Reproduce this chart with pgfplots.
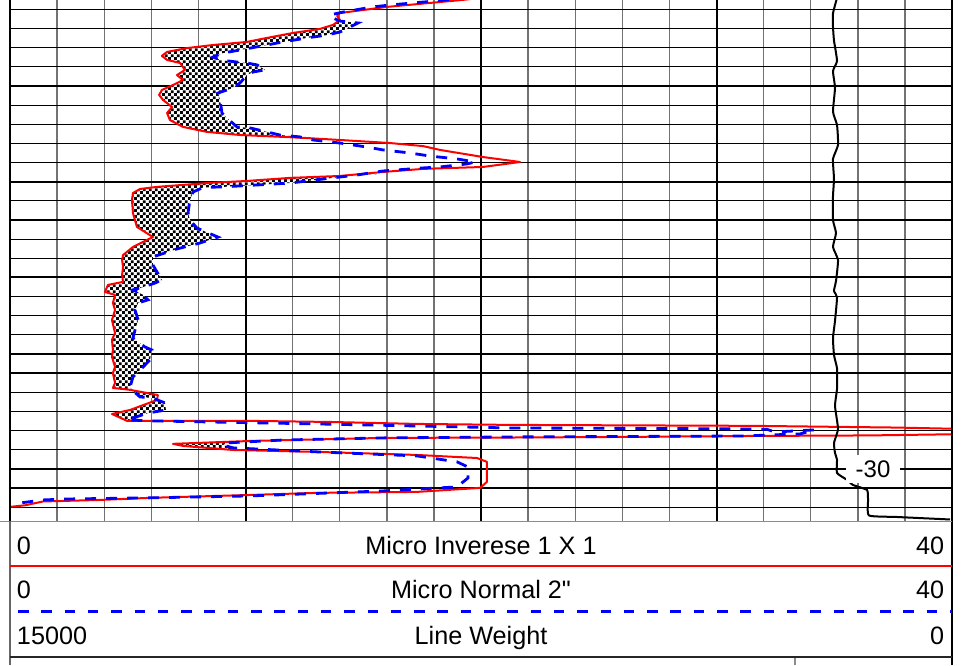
\documentclass[border=0pt]{standalone}
\usepackage{fontspec}
\setmainfont{Liberation Sans}
\newfontfamily\plainsans{Liberation Sans}
\usepackage{pgfplots}
\pgfplotsset{compat=1.18}
\usepackage{pgfplotstable}
\usetikzlibrary{patterns}

% opaque checker fill between the two micro curves
\pgfdeclarepatternformonly{checks}{\pgfpointorigin}{\pgfqpoint{2.9pt}{2.9pt}}{\pgfqpoint{2.9pt}{2.9pt}}{%
  \pgfpathrectangle{\pgfpointorigin}{\pgfqpoint{1.45pt}{1.45pt}}%
  \pgfpathrectangle{\pgfqpoint{1.45pt}{1.45pt}}{\pgfqpoint{1.45pt}{1.45pt}}%
  \pgfusepath{fill}}

\newcommand\hdr{\plainsans\fontsize{12.6}{15}\selectfont}

% Micro Inverse 1 X 1 (value, depth)
\pgfplotstableread{
x y
19.96 -54.60
19.19 -54.49
16.01 -54.13
14.01 -53.81
13.89 -53.66
14.01 -53.45
13.72 -53.19
13.16 -52.98
12.02 -52.77
10.91 -52.51
10.06 -52.30
8.62 -52.14
7.52 -51.98
6.67 -51.78
6.45 -51.57
6.67 -51.36
7.22 -51.20
7.43 -50.84
7.09 -50.57
7.35 -50.31
6.92 -50.05
6.45 -49.79
6.33 -49.53
6.50 -49.27
6.88 -48.90
6.67 -48.59
6.79 -48.22
7.35 -47.86
8.37 -47.60
9.77 -47.44
11.59 -47.34
12.61 -47.28
14.01 -47.18
16.14 -47.02
17.54 -46.86
18.26 -46.66
20.08 -46.29
21.66 -46.03
20.08 -45.77
17.54 -45.67
15.84 -45.51
14.01 -45.30
11.89 -45.20
10.06 -45.04
8.37 -44.93
6.24 -44.73
5.52 -44.62
5.22 -44.41
5.18 -44.05
5.22 -43.37
5.39 -42.64
6.07 -42.11
5.82 -41.96
5.22 -41.59
4.80 -41.17
4.76 -40.91
4.80 -40.55
4.76 -40.13
4.80 -39.77
4.16 -39.61
4.03 -39.24
4.46 -39.09
4.37 -38.67
4.46 -38.30
4.33 -37.78
4.46 -37.10
4.33 -36.74
4.37 -36.21
4.33 -35.85
4.46 -35.33
4.37 -35.01
4.46 -34.49
4.37 -34.23
5.10 -34.13
6.28 -33.86
6.24 -33.60
5.10 -33.08
4.33 -32.87
4.97 -32.51
10.19 -32.51
13.72 -32.45
17.28 -32.35
21.23 -32.30
31.55 -32.25
37.66 -32.16
40.00 -32.10
45.00 -32.04
45.00 -31.88
40.00 -31.81
36.52 -31.75
31.30 -31.72
25.90 -31.67
21.23 -31.64
15.84 -31.62
10.19 -31.46
6.92 -31.31
7.35 -31.20
9.47 -30.99
13.04 -30.89
17.28 -30.73
19.83 -30.57
20.25 -30.37
20.25 -29.32
19.96 -29.01
17.28 -28.80
13.04 -28.75
10.19 -28.64
5.94 -28.49
3.82 -28.38
1.40 -28.30
0.64 -28.10
0.00 -28.02
-0.42 -27.96
}\inverse

% Micro Normal 2"
\pgfplotstableread{
x y
19.53 -54.60
16.14 -54.23
15.41 -54.13
14.14 -53.86
13.59 -53.71
13.72 -53.55
14.01 -53.39
14.78 -53.29
14.44 -53.08
14.01 -52.82
13.46 -52.66
12.61 -52.51
11.59 -52.30
10.91 -52.14
9.77 -51.88
9.04 -51.72
8.62 -51.51
8.92 -51.36
9.64 -51.25
10.06 -51.20
10.49 -51.10
10.83 -50.84
10.32 -50.73
10.06 -50.57
9.77 -50.16
9.47 -49.90
8.83 -49.63
8.92 -49.27
9.00 -48.59
9.21 -48.33
9.64 -47.86
10.19 -47.81
10.91 -47.60
11.46 -47.44
12.31 -47.34
12.87 -47.18
14.01 -47.02
15.16 -46.81
15.84 -46.66
16.99 -46.50
17.83 -46.34
18.98 -46.19
19.75 -46.03
19.41 -45.93
18.26 -45.77
17.54 -45.72
15.84 -45.56
14.73 -45.35
13.29 -45.14
11.89 -44.93
10.49 -44.83
9.04 -44.73
8.20 -44.70
7.77 -44.46
7.64 -44.05
7.56 -43.37
7.64 -43.00
7.94 -42.58
8.83 -42.11
8.07 -41.80
7.09 -41.49
6.07 -41.07
6.07 -40.65
6.24 -40.29
6.45 -39.87
6.16 -39.71
5.65 -39.50
5.22 -39.35
5.65 -39.09
5.86 -38.83
5.44 -38.67
5.31 -38.30
5.44 -37.78
5.31 -37.26
5.22 -36.84
5.73 -36.37
6.03 -36.21
5.94 -35.69
5.61 -35.27
5.44 -35.07
5.22 -34.80
5.10 -34.28
5.18 -34.13
5.52 -33.76
6.03 -33.71
6.58 -33.45
6.62 -33.08
5.86 -32.92
4.97 -32.56
5.94 -32.51
13.04 -32.35
21.23 -32.14
29.85 -32.10
32.14 -32.07
32.48 -31.93
34.18 -32.04
33.55 -31.83
31.12 -31.72
21.23 -31.67
15.84 -31.62
11.59 -31.51
9.21 -31.36
9.04 -31.25
9.47 -31.10
13.04 -30.89
17.28 -30.68
18.98 -30.37
19.45 -30.10
19.45 -29.53
18.98 -29.06
15.84 -28.85
10.19 -28.59
5.94 -28.49
2.42 -28.43
1.40 -28.38
0.42 -28.22
}\normal

% regions where Micro Normal reads above Micro Inverse
\pgfplotstableread{
x y
14.01 -53.45
13.72 -53.19
13.16 -52.98
12.02 -52.77
10.91 -52.51
10.06 -52.30
8.62 -52.14
7.52 -51.98
6.67 -51.78
6.45 -51.57
6.67 -51.36
7.22 -51.20
7.43 -50.84
7.09 -50.57
7.35 -50.31
6.92 -50.05
6.45 -49.79
6.33 -49.53
6.50 -49.27
6.88 -48.90
6.67 -48.59
6.79 -48.22
7.35 -47.86
8.37 -47.60
9.77 -47.44
11.59 -47.34
12.50 -47.30
12.31 -47.34
11.46 -47.44
10.91 -47.60
10.19 -47.81
9.64 -47.86
9.21 -48.33
9.00 -48.59
8.92 -49.27
8.83 -49.63
9.47 -49.90
9.77 -50.16
10.06 -50.57
10.32 -50.73
10.83 -50.84
10.49 -51.10
10.06 -51.20
9.64 -51.25
8.92 -51.36
8.62 -51.51
9.04 -51.72
9.77 -51.88
10.91 -52.14
11.59 -52.30
12.61 -52.51
13.46 -52.66
14.01 -52.82
14.44 -53.08
14.78 -53.29
14.01 -53.39
}\sepA

\pgfplotstableread{
x y
15.71 -45.40
14.01 -45.30
11.89 -45.20
10.06 -45.04
8.37 -44.93
6.24 -44.73
5.52 -44.62
5.22 -44.41
5.18 -44.05
5.22 -43.37
5.39 -42.64
6.07 -42.11
5.82 -41.96
5.22 -41.59
4.80 -41.17
4.76 -40.91
4.80 -40.55
4.76 -40.13
4.80 -39.77
4.16 -39.61
4.03 -39.24
4.46 -39.09
4.37 -38.67
4.46 -38.30
4.33 -37.78
4.46 -37.10
4.33 -36.74
4.37 -36.21
4.33 -35.85
4.46 -35.33
4.37 -35.01
4.46 -34.49
4.37 -34.23
5.10 -34.13
6.28 -33.86
6.24 -33.60
5.10 -33.08
4.33 -32.87
4.97 -32.53
5.86 -32.92
6.62 -33.08
6.58 -33.45
6.03 -33.71
5.52 -33.76
5.18 -34.13
5.10 -34.28
5.22 -34.80
5.44 -35.07
5.61 -35.27
5.94 -35.69
6.03 -36.21
5.73 -36.37
5.22 -36.84
5.31 -37.26
5.44 -37.78
5.31 -38.30
5.44 -38.67
5.86 -38.83
5.65 -39.09
5.22 -39.35
5.65 -39.50
6.16 -39.71
6.45 -39.87
6.24 -40.29
6.07 -40.65
6.07 -41.07
7.09 -41.49
8.07 -41.80
8.83 -42.11
7.94 -42.58
7.64 -43.00
7.56 -43.37
7.64 -44.05
7.77 -44.46
8.20 -44.70
9.04 -44.73
10.49 -44.83
11.89 -44.93
13.29 -45.14
14.73 -45.35
}\sepB

\pgfplotstableread{
x y
9.77 -31.41
6.92 -31.31
7.35 -31.20
9.47 -31.04
9.47 -31.10
9.04 -31.25
9.21 -31.36
}\sepC

% Line Weight (15000 left, 0 right)
\pgfplotstableread{
w y
1831 -54.60
1895 -53.79
1895 -53.08
1879 -52.37
1831 -51.31
1895 -50.78
1863 -49.90
1895 -48.66
1831 -47.96
1815 -46.92
1895 -46.19
1879 -45.14
1895 -44.26
1895 -43.00
1847 -42.32
1895 -41.59
1815 -40.91
1847 -39.82
1879 -39.30
1831 -38.96
1863 -37.73
1895 -36.84
1879 -35.95
1831 -35.25
1831 -34.18
1863 -33.29
1815 -32.09
1879 -31.36
1863 -30.84
1831 -30.47
1831 -29.79
1672 -29.43
1576 -29.16
1353 -28.90
1337 -28.38
1321 -27.57
876 -27.49
32 -27.36
}\weight

\begin{document}
\begin{tikzpicture}
\useasboundingbox (0,0) rectangle (484pt,332.5pt);

\begin{axis}[
    at={(5pt,72pt)}, anchor=south west,
    width=471pt, height=260.5pt, scale only axis,
    xmin=0, xmax=40,
    ymin=-54.49, ymax=-27.28, y dir=reverse,
    xtick={0,10,20,30,40},
    minor xtick={2,4,6,8,12,14,16,18,22,24,26,28,32,34,36,38},
    ytick={-55,-50,-45,-40,-35,-30},
    minor ytick={-54,-53,-52,-51,-49,-48,-47,-46,-44,-43,-42,-41,-39,-38,-37,-36,-34,-33,-32,-31,-29,-28},
    xticklabels={}, yticklabels={},
    major tick length=0pt, minor tick length=0pt,
    grid=both,
    major grid style={black, line width=1pt},
    minor x grid style={black!55, line width=0.7pt},
    minor y grid style={black, line width=0.6pt},
    axis line style={draw=none},
]
\addplot[draw=none, fill=white] table {\sepA};
\addplot[draw=none, pattern=checks] table {\sepA};
\addplot[draw=none, fill=white] table {\sepB};
\addplot[draw=none, pattern=checks] table {\sepB};
\addplot[draw=none, fill=white] table {\sepC};
\addplot[draw=none, pattern=checks] table {\sepC};

\addplot[red, line width=1pt, line join=round] table {\inverse};
\addplot[blue, line width=1.4pt, dash pattern=on 5.5pt off 5pt] table {\normal};
\end{axis}

\begin{axis}[
    at={(5pt,72pt)}, anchor=south west,
    width=471pt, height=260.5pt, scale only axis, hide axis,
    xmin=0, xmax=15000, x dir=reverse,
    ymin=-54.49, ymax=-27.28, y dir=reverse,
]
\addplot[black, line width=1pt, smooth, tension=0.3] table {\weight};
\node[fill=white, inner sep=0pt, minimum width=27pt, minimum height=14pt,
      font=\plainsans\fontsize{12}{14}\selectfont] at (axis cs:1258,-30) {-30};
\end{axis}

% track borders
\draw[black, line width=1.3pt] (5pt,72pt) -- (5pt,332.5pt);
\draw[black, line width=1.3pt] (476pt,0pt) -- (476pt,332.5pt);
\draw[black!45, line width=0.6pt] (0pt,71.7pt) -- (476pt,71.7pt);
\draw[black!60, line width=0.6pt] (5pt,72pt) -- (5pt,0pt);

% header
\draw[red, line width=1.2pt] (5pt,49.5pt) -- (476pt,49.5pt);
\draw[blue, line width=1.4pt, dash pattern=on 5.25pt off 6.4pt] (9pt,26.7pt) -- (476pt,26.7pt);
\draw[black!85, line width=1pt] (5pt,4.2pt) -- (476pt,4.2pt);
\draw[black!45, line width=0.6pt] (397.5pt,3.6pt) -- (397.5pt,0pt);

\node[anchor=base west, inner sep=0pt, font=\hdr] at (8.3pt,55.5pt) {0};
\node[anchor=base, inner sep=0pt, font=\hdr] at (240.5pt,55.5pt) {Micro Inverese 1 X 1};
\node[anchor=base east, inner sep=0pt, font=\hdr] at (472.3pt,55.5pt) {40};

\node[anchor=base west, inner sep=0pt, font=\hdr] at (8.3pt,33.5pt) {0};
\node[anchor=base, inner sep=0pt, font=\hdr] at (240.5pt,33.5pt) {Micro Normal 2"};
\node[anchor=base east, inner sep=0pt, font=\hdr] at (472.3pt,33.5pt) {40};

\node[anchor=base west, inner sep=0pt, font=\hdr] at (8.3pt,10.5pt) {15000};
\node[anchor=base, inner sep=0pt, font=\hdr] at (240.5pt,10.5pt) {Line Weight};
\node[anchor=base east, inner sep=0pt, font=\hdr] at (472.3pt,10.5pt) {0};
\end{tikzpicture}
\end{document}
